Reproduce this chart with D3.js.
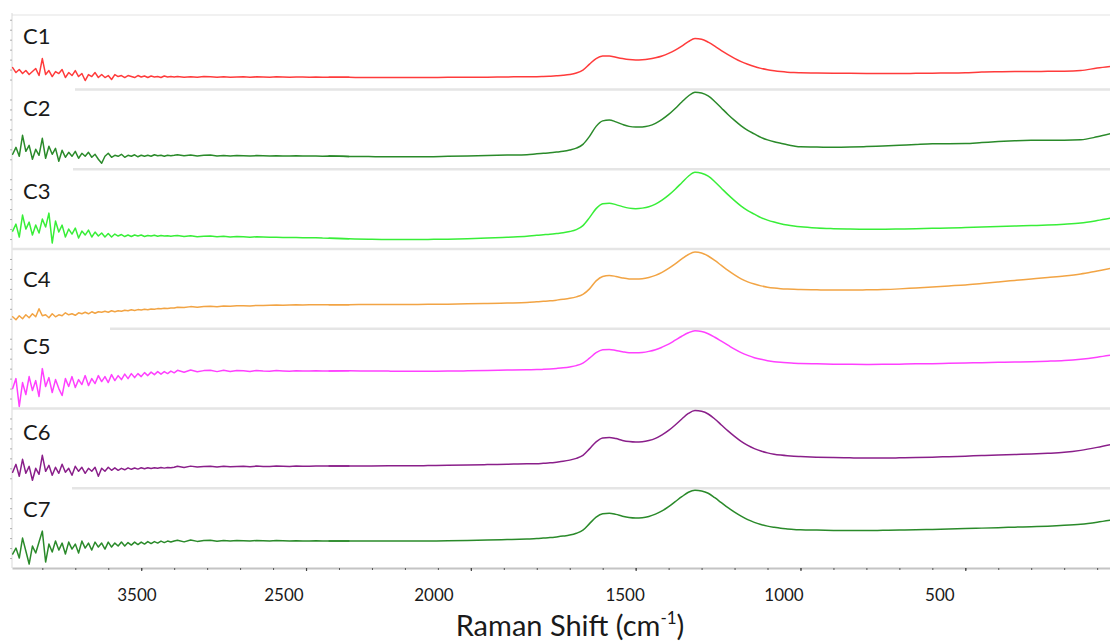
<!DOCTYPE html>
<html>
<head>
<meta charset="utf-8">
<script src="https://cdn.jsdelivr.net/npm/d3@7"></script>
<style>
  html, body { margin: 0; padding: 0; background: #ffffff; }
  svg { display: block; }
</style>
</head>
<body>
<svg id="chart" width="1110" height="641"></svg>
<script>
// ---- Raman spectra of samples C1..C7 (intensity, arbitrary units, offset per panel) ----
const wavenumber = [
  3390,3380,3370,3360,3350,3340,3330,3320,3310,3300,
  3290,3280,3270,3260,3250,3240,3230,3220,3210,3200,
  3190,3180,3170,3160,3150,3140,3130,3120,3110,3100,
  3090,3080,3070,3060,3050,3040,3030,3020,3010,3000,
  2990,2980,2970,2960,2950,2940,2930,2920,2910,2900,
  2890,2870,2850,2830,2810,2790,2770,2750,2730,2710,2690,2670,
  2650,2630,2610,2590,2570,2550,2530,2510,2490,2470,2450,2430,
  2370,2310,2250,2190,2130,2070,2010,1950,1890,1830,
  1800,1780,1760,1740,1720,1700,1680,1660,1640,1620,
  1600,1580,1560,1540,1520,1500,1480,1460,1440,1420,
  1400,1380,1360,1340,1320,1300,1280,1260,1240,1220,
  1200,1180,1160,1140,1120,1100,1080,1060,1040,1020,
  1000,
  950,900,850,800,750,700,650,600,550,500,450,400,350,300,250,200,150,100,50
];

const c1 = [
  22,17,20,16,19,15,18,21,14,31, 15,19,13,18,16,20,12,17,14,19,
  13,16,9,15,13,17,12,15,12,14, 10,15,13,14,12,14,13,12,14,12.5,
  13.5,12,13.5,12.5,13,12,13.5,12.5,13,12.5,
  13.1,12.4,12.9,12.2,13,12.7,12.4,12.9,12.3,12.6,12.8,12.3,
  12.7,12.5,12.4,12.8,12.5,12.3,12.6,12.5,12.4,12.6,12.3,12.4,
  12.2,12,12,12.1,12,12.2,12.2,12.4,12.6,12.8,
  12.8,13,13.3,13.7,14.2,15,16.5,19.5,25.5,31, 33.5,33.7,32.3,31,30,29.6,29.8,30.5,31.8,33.6,
  36.2,39.5,43.5,48,51.2,50.5,47.5,43.5,39,35, 31.3,28,25.3,23,21.2,19.8,18.8,18,17.4,17,
  16.8,
  16.5,16.3,16.2,16.1,16,16,16.2,16.4,16.5,16.8,17.5,17.8,18,18,18.2,18.3,19,21.5,23.5
];

const c2 = [
  15,22,13,34,18,24,10,20,14,31, 11,23,15,21,8,19,12,17,13,18,
  11,16,13,17,12,15,10,6,13,16, 12,14,13,15,12,14,13,14.5,12.5,14,
  13,14,13,14.5,13.5,14,13,14,13.5,14,
  14.6,13.5,14.4,13.2,14,14.2,13.4,13.9,13.3,13.8,13.6,13.2,
  13.7,13.5,13.3,13.6,13.4,13.2,13.5,13.3,13.2,13.4,13.1,13.2,
  12.9,12.7,12.5,12.5,12.6,13,13.4,13.8,14.2,14.6,
  15.5,16,16.5,17.2,18,19.3,21.2,25,33,43, 48.5,49.5,47.5,45,43,42.3,42.5,43.5,46,50,
  55,61,67.5,73.5,77.3,76.5,73.5,68,61.5,55, 49,43.5,39,35.5,32,29.5,27.5,26,24.5,23.3,
  22.5,
  22.3,22,22.2,22.7,23.3,24,24.8,25.5,25.7,25.8,26.8,27.8,28.5,29,29.2,29.2,29.6,32.5,36.5
];

const c3 = [
  18,25,12,34,20,27,14,24,16,30, 22,36,6,28,17,24,12,20,15,21,
  11,18,14,19,12,17,13,16,12,15.5, 12,15,13,14.5,12.5,14,12.5,14,13,14,
  12.5,13.5,13,13.8,12.8,13.5,13,13.4,12.8,13.2,
  13.6,12.6,13.3,12.4,12.9,13,12.2,12.7,12.1,12.5,12.3,11.9,
  12.2,12,11.7,11.9,11.6,11.5,11.6,11.3,11.2,11.3,11,10.9,
  10.3,9.8,9.5,9.5,9.6,9.9,10.4,11,11.8,12.7,
  13.8,14.3,14.8,15.5,16.3,17.5,19.5,23.5,31.5,40.5, 45.5,46,44.5,42.5,41,40.5,41,42.3,45,49,
  54,60,66.5,73,77,76,73,67.5,61,54.5, 48.5,43,38.5,35,31.5,29,27,25.3,24,23,
  22.2,
  21,20.4,20,19.8,19.8,20,20.3,20.7,21,21.5,22,22.5,23,23.5,24,24.8,26,28.5,31.5
];

const c4 = [
  12,9,13,10,14,11,15,12,20,13, 14,11,15,12,14,13,16,14,15,13.5,
  16,15,16.5,15,17,15.5,17,16.5,17.5,16.5, 18,17,18,17.5,18.5,18,19,18.3,19.2,18.8,
  19.5,19,19.8,19.5,20.2,20,20.5,20.3,20.8,20.8,
  21.6,21.2,22.2,21.6,22.4,22.5,22.1,22.8,22.5,23,23.1,22.9,
  23.4,23.3,23.5,23.7,23.6,23.8,24,23.9,24,24.2,24.1,24.2,
  24.2,24.3,24.3,24.4,24.5,24.7,25,25.4,25.8,26.3,
  27,27.5,28,28.7,29.5,30.5,32,34.5,40,48, 52.5,53.5,52.5,51,50,49.8,50.2,51.5,53.5,56.5,
  60.5,65,70,74.5,77,76,73,68.5,63.5,58.5, 54,50,47,44.8,43,41.7,40.8,40.2,39.8,39.5,
  39.3,
  39,38.8,38.8,39,39.3,40,41,42,43,44,45.5,47,48.5,50,51.5,53,55,58,61
];

const c5 = [
  20,30,2,26,14,32,18,28,12,40, 22,31,16,29,20,13,30,22,32,21,
  29,24,33,23,30,25,33,27,32,26, 34,28,33,29,34.5,30,35,31,35,32,
  36,33,36.5,34,37,34.5,37,35,37.5,35.8,
  38.3,36.4,38.6,36.8,38,38.4,37,38.3,37.2,38.1,37.8,37.1,
  38.2,37.6,37.4,38,37.6,37.3,37.9,37.7,37.5,37.9,37.6,37.7,
  37.8,37.6,37.5,37.4,37.4,37.5,37.8,38.1,38.5,38.9,
  39,39.3,39.7,40.2,40.8,41.7,43,45.5,50.5,56, 59,59.3,58.2,57,56,55.8,56.2,57.3,59,61.5,
  64.5,68.5,72.5,76,78,77.3,75,71.5,67.5,63.5, 59.5,56,53.3,51,49.3,48,47,46.3,45.8,45.4,
  45.2,
  44.8,44.5,44.3,44.2,44.3,44.5,44.8,45,45.3,45.6,46,46.3,46.6,47,47.5,48.2,49.5,51.5,54
];

const c6 = [
  16,24,12,29,15,22,8,20,14,33, 17,23,13,21,15,24,16,20,13,22,
  17,21,15,20,17,21,12,20,17,21, 18,20.5,18,20,18.5,20.5,19,20.3,19.2,20.5,
  19.5,20.5,19.8,20.6,20,20.8,20.2,20.9,20.5,21,
  22,20.9,22.2,21.2,21.8,22,21.4,22.1,21.5,21.9,22.1,21.6,
  22.2,21.9,21.8,22.2,22,21.9,22.3,22.1,22.1,22.3,22.2,22.2,
  22.3,22.4,22.5,22.5,22.7,23,23.3,23.7,24.1,24.5,
  24.5,25,25.5,26.2,27,28.2,30,33,39.5,46.5, 50.5,51,49.8,48,46.8,46.3,46.6,47.8,50,53.5,
  58,63.5,69.5,75,78,77.2,74.5,69.5,63.5,57.5, 52,47,43,39.8,37.3,35.5,34.2,33.3,32.6,32.1,
  31.8,
  31.2,30.8,30.5,30.3,30.3,30.5,30.8,31.2,31.7,32.2,32.8,33.3,33.8,34.3,35,36,38,41,44.5
];

const c7 = [
  14,20,10,30,17,4,22,15,26,37, 6,24,16,27,18,25,14,26,19,24,
  15,27,20,25,18,26,21,25,19,26, 21,25,22,26,22,25.5,23,26,23.5,26,
  24,26.5,24.5,26.5,25,27,25.5,27,26,27,
  27.9,26.2,28.1,26.7,27.6,27.9,26.9,27.7,27,27.6,27.4,27,
  27.6,27.3,27.1,27.5,27.3,27.1,27.4,27.2,27.1,27.3,27.1,27.2,
  27.2,27.1,27,27,27.1,27.3,27.6,28,28.5,29.1,
  29.5,30,30.5,31.2,32,33,34.8,38,44.5,51, 54.5,55,53.8,52,50.7,50.2,50.5,51.7,54,57.3,
  61.5,66.5,71.5,76,78,77.3,75,70.5,65.5,60.5, 56,52,48.5,45.8,43.7,42,40.8,39.8,39.2,38.7,
  38.4,
  38,37.7,37.6,37.6,37.8,38,38.3,38.7,39.1,39.5,40,40.5,41,41.5,42,42.8,44,46,48.5
];

const sampleNames = ["C1", "C2", "C3", "C4", "C5", "C6", "C7"];
const sampleValues = [c1, c2, c3, c4, c5, c6, c7];

// axis tick labels and the wavenumbers they are printed at
const tickLabels = ["3500", "2500", "2000", "1500", "1000", "500"];
const tickLabelAt = [3013, 2567, 2112, 1532, 1050, 577];
const axisTitle = "Raman Shift (cm";
const axisTitleSup = "-1";

// the noisy high-wavenumber end is drawn point to point, the rest smoothed
const noisyAbove = 2420;

// ---- layout & style ----
const W = 1110, H = 641;
const plotLeft = 12, plotRight = 1110;
const panelsTop = 9.75, panelsBottom = 568;
const lineColors = ["#ff3b3b", "#2a8a2a", "#38ee38", "#f2a444", "#ff40ff", "#8a1f8a", "#2a8a2a"];
const separatorStart = [75, 73, 12, 110, 12, 72];
const nameLift = [46, 53, 50, 42, 55, 48, 51];
const fontFamily = "Lato, 'Open Sans', sans-serif";

const svg = d3.select("#chart");
svg.append("rect").attr("width", W).attr("height", H).attr("fill", "#ffffff");

const x = d3.scaleLinear().domain([3392, 61]).range([plotLeft, plotRight]);
const band = d3.scaleBand().domain(sampleNames).range([panelsTop, panelsBottom]).paddingInner(0);

// faint frame line at the top and the left edge
svg.append("line")
  .attr("x1", plotLeft).attr("x2", plotRight).attr("y1", 15).attr("y2", 15)
  .attr("stroke", "#f1f1f1").attr("stroke-width", 2);
svg.append("line")
  .attr("x1", plotLeft).attr("x2", plotLeft).attr("y1", 13).attr("y2", panelsBottom)
  .attr("stroke", "#d9d9d9").attr("stroke-width", 1);

// panel separators
sampleNames.slice(0, -1).forEach((name, i) => {
  const yb = band(name) + band.bandwidth();
  svg.append("line")
    .attr("x1", separatorStart[i]).attr("x2", plotRight)
    .attr("y1", yb).attr("y2", yb)
    .attr("stroke", "#e5e5e5").attr("stroke-width", 2.5);
});

// one panel per sample
sampleNames.forEach((name, i) => {
  const yb = band(name) + band.bandwidth();
  const y = d3.scaleLinear().domain([0, 80]).range([yb, yb - band.bandwidth()]);

  // small left ticks
  const gy = svg.append("g").attr("transform", `translate(${plotLeft},0)`);
  gy.call(d3.axisLeft(y).tickValues(d3.range(10, 80, 10)).tickSize(2).tickFormat(""));
  gy.select(".domain").remove();
  gy.selectAll(".tick line").attr("stroke", "#9a9a9a").attr("stroke-width", 0.8);

  const pts = wavenumber.map((w, k) => [w, sampleValues[i][k]]);
  const split = pts.findIndex(d => d[0] < noisyAbove);
  const noisy = pts.slice(0, split + 1);
  const smooth = pts.slice(split - 1);

  const rough = d3.line().x(d => x(d[0])).y(d => y(d[1])).curve(d3.curveLinear);
  const soft = d3.line().x(d => x(d[0])).y(d => y(d[1])).curve(d3.curveMonotoneX);

  [[noisy, rough], [smooth, soft]].forEach(([seg, gen]) => {
    svg.append("path")
      .datum(seg)
      .attr("d", gen)
      .attr("fill", "none")
      .attr("stroke", lineColors[i])
      .attr("stroke-width", 1.5)
      .attr("stroke-linejoin", "round")
      .attr("stroke-linecap", "round");
  });

  svg.append("text")
    .attr("x", 23)
    .attr("y", yb - nameLift[i])
    .attr("font-family", fontFamily)
    .attr("font-size", 22)
    .attr("fill", "#1a1a1a")
    .text(name);
});

// bottom axis: minor ticks every 100 cm-1, major every 500 cm-1
const gx = svg.append("g").attr("transform", `translate(0,${panelsBottom})`);
gx.call(d3.axisBottom(x).tickValues(d3.range(3300, 60, -100)).tickSize(2).tickFormat("").tickSizeOuter(0));
gx.select(".domain").attr("stroke", "#c4c4c4").attr("stroke-width", 2);
gx.selectAll(".tick line").attr("stroke", "#555").attr("stroke-width", 1);
const gxMajor = svg.append("g").attr("transform", `translate(0,${panelsBottom})`);
gxMajor.call(d3.axisBottom(x).tickValues(d3.range(3000, 60, -500)).tickSize(3).tickFormat(""));
gxMajor.select(".domain").remove();
gxMajor.selectAll(".tick line").attr("stroke", "#444").attr("stroke-width", 1.2);

// tick labels
svg.append("g").selectAll("text")
  .data(tickLabels)
  .join("text")
  .attr("x", (d, k) => x(tickLabelAt[k]))
  .attr("y", 601)
  .attr("text-anchor", "middle")
  .attr("font-family", fontFamily)
  .attr("font-size", 17)
  .attr("fill", "#1a1a1a")
  .text(d => d);

// axis title
const title = svg.append("text")
  .attr("x", 570)
  .attr("y", 636)
  .attr("text-anchor", "middle")
  .attr("font-family", fontFamily)
  .attr("font-size", 29)
  .attr("fill", "#1a1a1a");
title.append("tspan").text(axisTitle);
title.append("tspan").attr("font-size", 17).attr("dy", -12).text(axisTitleSup);
title.append("tspan").attr("dy", 12).text(")");
</script>
</body>
</html>
